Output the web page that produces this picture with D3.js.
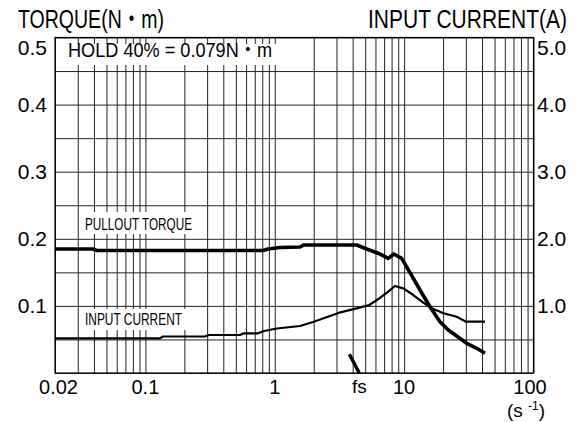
<!DOCTYPE html>
<html><head><meta charset="utf-8">
<script src="https://cdn.jsdelivr.net/npm/d3@7"></script>
<style>
body{margin:0;background:#fff}
svg{display:block}
text{font-family:"Liberation Sans",Arial,"Noto Sans CJK JP",sans-serif;fill:#000}
</style>
</head><body>
<svg id="c" width="580" height="422"></svg>
<script>
// ---- data ----
const torqueFreq = [0.02,0.0393,0.0423,0.811,0.886,1.097,1.566,1.682,4.30,5.13,6.51,7.54,8.34,9.57,11.10,13.26,15.84,18.92,21.94,30.43,36.37,42.15];
const torqueVal  = [0.1848,0.1848,0.1826,0.1826,0.1848,0.1870,0.1878,0.1908,0.1908,0.1848,0.1773,0.1709,0.1773,0.1709,0.1495,0.1237,0.0988,0.0765,0.0641,0.0443,0.0368,0.0294];
const currentFreq = [0.02,0.1296,0.1367,0.2887,0.310,0.538,0.578,0.742,0.825,1.040,1.566,1.974,3.152,4.30,5.38,6.43,7.54,8.49,9.85,11.77,14.06,16.33,20.1,25.5,30.06,42.15];
const currentVal  = [0.517,0.517,0.544,0.544,0.566,0.566,0.592,0.592,0.626,0.663,0.700,0.760,0.899,0.964,1.013,1.113,1.212,1.297,1.262,1.162,1.048,0.964,0.890,0.839,0.765,0.765];
const fsFreq = [3.77,4.5];
const fsVal  = [0.028,0];
const xTickVals = [0.02,0.1,1,10,100];
const xTickLabels = ["0.02","0.1","1","10","100"];
const torqueTicks = [0.1,0.2,0.3,0.4,0.5];
const torqueTickLabels = ["0.1","0.2","0.3","0.4","0.5"];
const currentTicks = [1,2,3,4,5];
const currentTickLabels = ["1.0","2.0","3.0","4.0","5.0"];
const titleLeft = "TORQUE(N・m)";
const titleRight = "INPUT CURRENT(A)";
const holdText = "HOLD 40% = 0.079N・m";
const torqueLabel = "PULLOUT TORQUE";
const currentLabel = "INPUT CURRENT";
const fsLabel = "fs";

// ---- layout ----
const L=55, R=533.5, T=37.5, B=373;
const svg = d3.select("#c");
const x = d3.scaleLog().domain([0.02,100]).range([L,R]);
const yT = d3.scaleLinear().domain([0,0.5]).range([B,T]);
const yA = d3.scaleLinear().domain([0,5]).range([B,T]);

// grid
const gx = svg.append("g").attr("transform",`translate(0,${B})`)
  .call(d3.axisBottom(x).tickValues(x.ticks()).tickSize(-(B-T)).tickFormat(""));
gx.select(".domain").remove();
gx.selectAll("line").attr("stroke","#222").attr("stroke-width",1);
const gy = svg.append("g").attr("transform",`translate(${L},0)`)
  .call(d3.axisLeft(yT).tickValues(d3.range(0,0.5001,0.05)).tickSize(-(R-L)).tickFormat(""));
gy.select(".domain").remove();
gy.selectAll("line").attr("stroke","#222").attr("stroke-width",1);

svg.append("rect").attr("x",L).attr("y",T).attr("width",R-L).attr("height",B-T)
  .attr("fill","none").attr("stroke","#000").attr("stroke-width",1.2);

// white label boxes
svg.append("rect").attr("x",L+1).attr("y",44).attr("width",226).attr("height",21).attr("fill","#fff");
svg.append("rect").attr("x",83).attr("y",212).attr("width",113).attr("height",22).attr("fill","#fff");
svg.append("rect").attr("x",83).attr("y",309).attr("width",103).attr("height",21).attr("fill","#fff");

// curves
const line = (ys) => d3.line().x(d=>x(d[0])).y(d=>ys(d[1]));
svg.append("path").datum(d3.zip(currentFreq,currentVal))
  .attr("d",line(yA)).attr("fill","none").attr("stroke","#000").attr("stroke-width",2.2).attr("stroke-linejoin","round");
svg.append("path").datum(d3.zip(torqueFreq,torqueVal))
  .attr("d",line(yT)).attr("fill","none").attr("stroke","#000").attr("stroke-width",3.6).attr("stroke-linejoin","round");
svg.append("path").datum(d3.zip(fsFreq,fsVal))
  .attr("d",line(yT)).attr("fill","none").attr("stroke","#000").attr("stroke-width",3.4);

// text
function txt(s,xx,yy,size,len,anchor){
  const t = svg.append("text").attr("x",xx).attr("y",yy).attr("font-size",size).text(s);
  if(anchor) t.attr("text-anchor",anchor);
  if(len) t.attr("textLength",len).attr("lengthAdjust","spacingAndGlyphs");
  return t;
}
function title(s,xx,yy,len){
  svg.append("text").attr("transform",`translate(${xx},${yy}) scale(1,1.2)`)
    .attr("font-size",21.5).attr("textLength",len).attr("lengthAdjust","spacingAndGlyphs").text(s);
}
title(titleLeft,18,27.5,146);
title(titleRight,368,27.5,199);
txt(holdText,68,56.5,19.5,204);
txt(torqueLabel,85,229.5,16.5,107);
txt(currentLabel,85,324.5,16.5,97);

torqueTicks.forEach((v,i)=>{
  txt(torqueTickLabels[i],47,Math.max(yT(v)+7.5,55),21,null,"end");
});
currentTicks.forEach((v,i)=>{
  txt(currentTickLabels[i],537,Math.max(yA(v)+7.5,55),21,null,"start");
});
xTickVals.forEach((v,i)=>{
  const cx = Math.min(Math.max(x(v),58.5),530);
  txt(xTickLabels[i],cx,393.5,20,null,"middle");
});
txt(fsLabel,x(fsFreq[1]),392.5,19,null,"middle");
const u = svg.append("text").attr("x",526).attr("y",417).attr("font-size",19).attr("text-anchor","middle");
u.append("tspan").text("(s ");
u.append("tspan").attr("font-size",12).attr("dy",-7).text("-1");
u.append("tspan").attr("dy",7).text(")");
</script>
</body></html>
